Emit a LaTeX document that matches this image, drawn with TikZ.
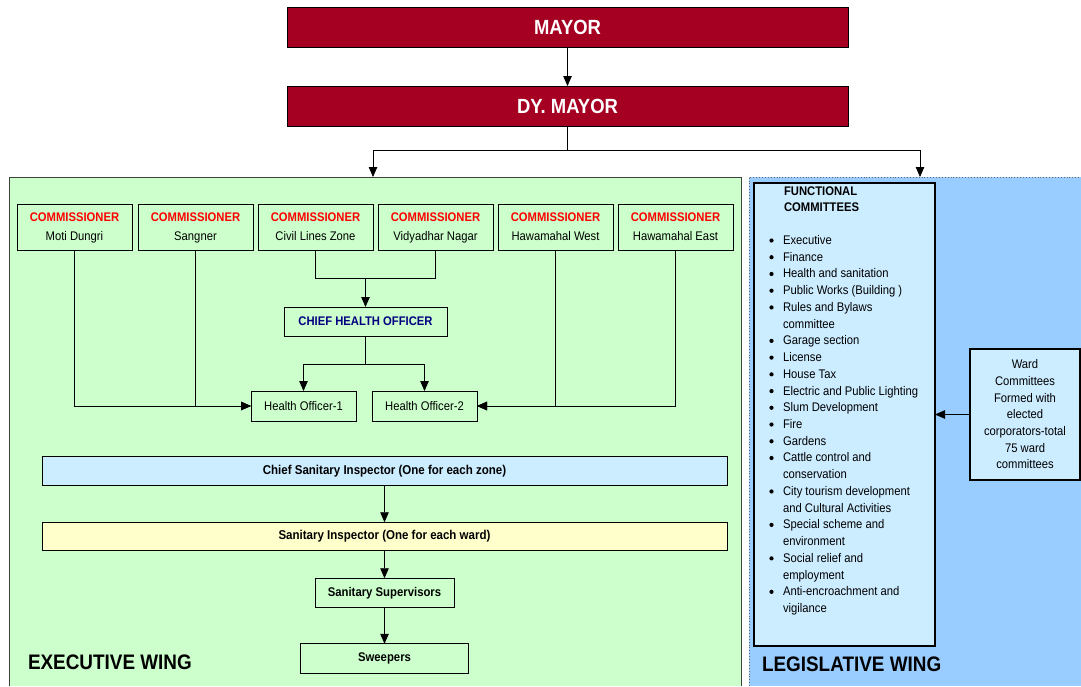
\documentclass[tikz,border=0pt]{standalone}
\usepackage{fontspec}
\setmainfont{Liberation Sans}[FakeStretch=0.9]
\usetikzlibrary{arrows.meta}
\definecolor{mayorred}{HTML}{A50021}
\definecolor{greenbg}{HTML}{CCFFCC}
\definecolor{bluebg}{HTML}{99CCFF}
\definecolor{lightblue}{HTML}{CCECFF}
\definecolor{lightyellow}{HTML}{FFFFCC}
\definecolor{navytext}{HTML}{000080}
\definecolor{commred}{HTML}{FF0000}
\begin{document}
\begin{tikzpicture}[x=1pt,y=-1pt,
  every node/.style={inner sep=0pt, outer sep=0pt},
  txt/.style={font=\fontsize{12.5}{15}\selectfont},
  box/.style={draw=black, line width=0.8pt, txt},
  mayorbox/.style={box, fill=mayorred, text=white, font=\fontsize{20.5}{24}\selectfont\bfseries, minimum width=561pt, minimum height=40pt},
  comm/.style={box, fill=greenbg, minimum width=115pt, minimum height=46pt, align=center, font=\fontsize{12.5}{19}\selectfont},
  hobox/.style={box, fill=greenbg, minimum width=105pt, minimum height=30pt},
  wide/.style={box, minimum width=685pt, minimum height=28.5pt, font=\fontsize{12.8}{15}\selectfont\bfseries},
  small/.style={box, fill=greenbg, minimum height=29.5pt, font=\fontsize{12.6}{15}\selectfont\bfseries},
  conn/.style={line width=0.8pt},
  arr/.style={conn, -{Triangle[length=10pt,width=8.5pt]}},
  wing/.style={font=\fontsize{21}{24}\selectfont\bfseries, anchor=base west},
  item/.style={txt, anchor=base west},
]
\useasboundingbox (0,0) rectangle (1081,686);

% wings backgrounds
\node[fill=greenbg, minimum width=732pt, minimum height=509pt, anchor=north west] (exec) at (9,177) {};
\draw[line width=0.9pt, draw=black!75] (exec.south west) -- (exec.north west) -- (exec.north east) -- (exec.south east);
\node[fill=bluebg, minimum width=332pt, minimum height=509pt, anchor=north west] (legis) at (749,177) {};
\draw[line width=0.9pt, draw=black!60, dotted] (legis.south west) -- (legis.north west) -- (legis.north east);

% top
\node[mayorbox] (mayor) at (567.5,27) {MAYOR};
\node[mayorbox] (dymayor) at (567.5,106) {DY. MAYOR};
\draw[arr] (mayor) -- (dymayor);
\coordinate (jl) at (373,150);
\coordinate (jr) at (920,150);
\draw[conn] (dymayor.south) -- (dymayor.south |- jl);
\draw[conn] (jl) -- (jr);
\draw[arr] (jl) -- (jl |- exec.north);
\draw[arr] (jr) -- (jr |- legis.north);

% commissioners
\node[comm] (c1) at (74.5,227.5) {\strut{\color{commred}\bfseries COMMISSIONER}\\\strut Moti Dungri};
\node[comm] (c2) at (195.5,227.5) {\strut{\color{commred}\bfseries COMMISSIONER}\\\strut Sangner};
\node[comm] (c3) at (315.5,227.5) {\strut{\color{commred}\bfseries COMMISSIONER}\\\strut Civil Lines Zone};
\node[comm] (c4) at (435.5,227.5) {\strut{\color{commred}\bfseries COMMISSIONER}\\\strut Vidyadhar Nagar};
\node[comm] (c5) at (555.5,227.5) {\strut{\color{commred}\bfseries COMMISSIONER}\\\strut Hawamahal West};
\node[comm] (c6) at (675.5,227.5) {\strut{\color{commred}\bfseries COMMISSIONER}\\\strut Hawamahal East};

\node[box, fill=greenbg, minimum width=163pt, minimum height=29pt, text=navytext, font=\fontsize{12.5}{15}\selectfont\bfseries] (cho) at (365.5,321.5) {CHIEF HEALTH OFFICER};
\node[hobox] (ho1) at (303.5,406) {Health Officer-1};
\node[hobox] (ho2) at (424.5,406) {Health Officer-2};

\draw[conn] (c3.south) -- ++(0,28) -| (c4.south);
\coordinate (j34) at (365.5,278);
\draw[arr] (j34) -- (cho);
\draw[conn] (cho.south) -- ++(0,28) coordinate (j12);
\draw[arr] (j12) -| (ho1);
\draw[arr] (j12) -| (ho2);
\draw[arr] (c1.south) |- (ho1);
\draw[arr] (c2.south) |- (ho1);
\draw[arr] (c5.south) |- (ho2);
\draw[arr] (c6.south) |- (ho2);

% sanitary chain
\node[wide, fill=lightblue] (csi) at (384.5,471) {Chief Sanitary Inspector (One for each zone)};
\node[wide, fill=lightyellow] (si) at (384.5,536.5) {Sanitary Inspector (One for each ward)};
\node[small, minimum width=139pt] (ss) at (384.5,593) {Sanitary Supervisors};
\node[small, minimum width=168pt] (sw) at (384.5,658.5) {Sweepers};
\draw[arr] (csi) -- (si);
\draw[arr] (si) -- (ss);
\draw[arr] (ss) -- (sw);

\node[wing] (execlabel) at (28,669.5) {EXECUTIVE WING};

% legislative
\node[draw=black, line width=2.5pt, fill=lightblue, minimum width=181pt, minimum height=463pt, anchor=north west] (fc) at (754,183) {};
\node[txt, font=\fontsize{12.5}{16.5}\selectfont\bfseries, align=left, anchor=north west] (fctitle) at (784,186.5) {FUNCTIONAL\\COMMITTEES};
\foreach \t [count=\i from 0] in {Executive, Finance, Health and sanitation, Public Works (Building ), Rules and Bylaws, committee, Garage section, License, House Tax, Electric and Public Lighting, Slum Development, Fire, Gardens, Cattle control and, conservation, City tourism development, and Cultural Activities, Special scheme and, environment, Social relief and, employment, Anti-encroachment and, vigilance}
  \node[item] (li\i) at (783,{244.5+\i*16.73}) {\t};
\foreach \i in {0,1,2,3,4,6,7,8,9,10,11,12,13,15,17,19,21}
  \fill (771.5,{240.5+\i*16.73}) circle (2.1pt);

\node[draw=black, line width=2pt, fill=lightblue, minimum width=110pt, minimum height=131pt, align=center, txt, font=\fontsize{12.5}{16.67}\selectfont] (ward) at (1025,414.5) {Ward\\Committees\\Formed with\\elected\\corporators-total\\75 ward\\committees};
\draw[arr] (ward.west) -- (ward.west -| fc.east);

\node[wing] (leglabel) at (762,671) {LEGISLATIVE WING};
\end{tikzpicture}
\end{document}
